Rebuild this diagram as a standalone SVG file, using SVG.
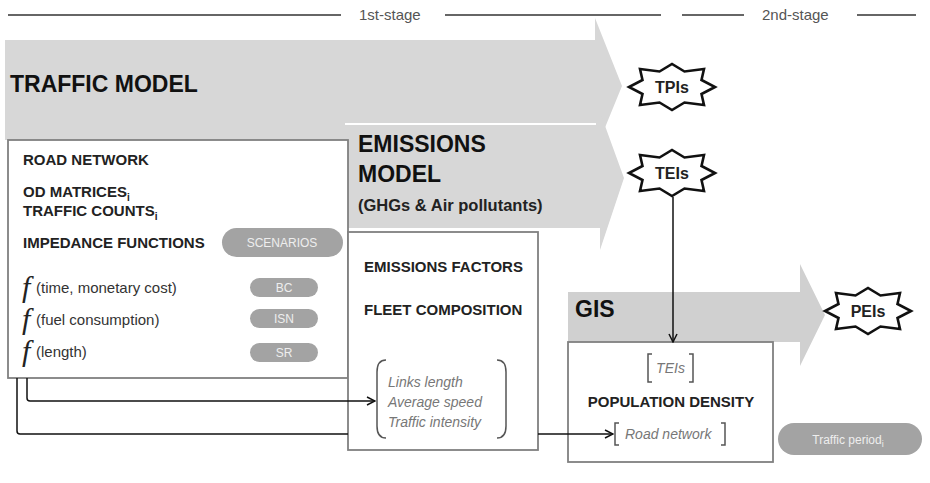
<svg xmlns="http://www.w3.org/2000/svg" width="930" height="483" viewBox="0 0 930 483">
<style>
  .sans { font-family: "Liberation Sans", Arial, sans-serif; }
  .hdr { font-family: "Liberation Sans", Arial, sans-serif; font-size: 15px; fill: #555; }
  .title { font-family: "Liberation Sans", Arial, sans-serif; font-size: 23px; font-weight: bold; fill: #111; }
  .item { font-family: "Liberation Sans", Arial, sans-serif; font-size: 15px; font-weight: bold; fill: #222; }
  .fn { font-family: "Liberation Sans", Arial, sans-serif; font-size: 15px; fill: #333; }
  .fbig { font-family: "Liberation Serif", "Times New Roman", serif; font-size: 30px; font-style: italic; fill: #222; }
  .it { font-family: "Liberation Sans", Arial, sans-serif; font-size: 14px; font-style: italic; fill: #777; }
  .pilltxt { font-family: "Liberation Sans", Arial, sans-serif; font-size: 12px; fill: #eee; text-anchor: middle; }
  .startxt { font-family: "Liberation Sans", Arial, sans-serif; font-size: 16px; font-weight: bold; fill: #222; text-anchor: middle; }
  .band { fill: #d7d7d7; }
  .band2 { fill: #d0d0d0; }
  .box { fill: #fff; stroke: #808080; stroke-width: 1.8; }
  .pill { fill: #a3a3a3; }
  .star { fill: #fff; stroke: #111; stroke-width: 2.6; stroke-linejoin: miter; }
  .brk { fill: none; stroke: #555; stroke-width: 1.5; }
  .rule { stroke: #333; stroke-width: 1.3; }
  .conn { fill: none; stroke: #111; stroke-width: 1.5; }
</style>
<defs>
  <marker id="arr" viewBox="0 0 10 10" refX="9" refY="5" markerWidth="10" markerHeight="10" markerUnits="userSpaceOnUse" orient="auto">
    <path d="M1,1 L9,5 L1,9" fill="none" stroke="#111" stroke-width="1.5"/>
  </marker>
  <path id="star" d="M43,0 L29.5,7 L32,18 L12.5,15.5 L0,23 L-12.5,15.5 L-32,18 L-29.5,7 L-43,0 L-29.5,-7 L-32,-18 L-12.5,-15.5 L0,-23 L12.5,-15.5 L32,-18 L29.5,-7 Z"/>
</defs>
<rect width="930" height="483" fill="#fff"/>

<g id="stage-header">
  <line class="rule" x1="8" y1="15" x2="341" y2="15"/>
  <text class="hdr" x="359" y="20">1st-stage</text>
  <line class="rule" x1="445" y1="15" x2="661" y2="15"/>
  <line class="rule" x1="682" y1="15" x2="744" y2="15"/>
  <text class="hdr" x="762" y="20">2nd-stage</text>
  <line class="rule" x1="857" y1="15" x2="916" y2="15"/>
</g>

<g id="traffic-model">
  <polygon class="band" points="5,40 595,40 595,18 622,86 595,152 595,140 5,140"/>
  <text class="title" x="10" y="92">TRAFFIC MODEL</text>
</g>

<g id="emissions-model">
  <polygon class="band" points="345,125 600,125 600,112 624,178 600,250 600,228 345,228"/>
  <line x1="345" y1="124" x2="596" y2="124" stroke="#fff" stroke-width="2"/>
  <text class="title" x="358" y="152">EMISSIONS</text>
  <text class="title" x="358" y="182">MODEL</text>
  <text class="sans" x="358" y="211" font-size="16.5" font-weight="bold" fill="#222">(GHGs &amp; Air pollutants)</text>
</g>

<g id="gis-model">
  <polygon class="band2" points="568,292 800,292 800,264 825,315 800,366 800,342 568,342"/>
  <text class="title" x="575" y="317">GIS</text>
</g>

<g id="traffic-inputs">
  <rect class="box" x="8" y="140" width="340" height="238"/>
  <text class="item" x="23" y="165">ROAD NETWORK</text>
  <text class="item" x="23" y="197">OD MATRICES<tspan font-size="10" dy="4">i</tspan></text>
  <text class="item" x="23" y="216">TRAFFIC COUNTS<tspan font-size="10" dy="4">i</tspan></text>
  <text class="item" x="23" y="248">IMPEDANCE FUNCTIONS</text>
  <rect class="pill" x="222" y="228" width="121" height="29" rx="14.5"/>
  <text class="pilltxt" x="282" y="247" font-size="13">SCENARIOS</text>
  <text class="fbig" x="22" y="297">f</text>
  <text class="fn" x="36" y="293">(time, monetary cost)</text>
  <text class="fbig" x="22" y="329">f</text>
  <text class="fn" x="36" y="325">(fuel consumption)</text>
  <text class="fbig" x="22" y="361">f</text>
  <text class="fn" x="36" y="357">(length)</text>
  <rect class="pill" x="250" y="278" width="68" height="19" rx="9.5"/>
  <text class="pilltxt" x="284" y="292">BC</text>
  <rect class="pill" x="250" y="309" width="68" height="19" rx="9.5"/>
  <text class="pilltxt" x="284" y="323">ISN</text>
  <rect class="pill" x="250" y="343" width="68" height="19" rx="9.5"/>
  <text class="pilltxt" x="284" y="357">SR</text>
</g>

<g id="emissions-inputs">
  <rect class="box" x="348" y="232" width="190" height="218"/>
  <text class="item" x="364" y="272">EMISSIONS FACTORS</text>
  <text class="item" x="364" y="315">FLEET COMPOSITION</text>
  <path class="brk" d="M386,360 Q377,360 377,372 L377,426 Q377,438 386,438"/>
  <path class="brk" d="M497,360 Q506,360 506,372 L506,426 Q506,438 497,438"/>
  <text class="it" x="388" y="387">Links length</text>
  <text class="it" x="388" y="407">Average speed</text>
  <text class="it" x="388" y="427">Traffic intensity</text>
</g>

<g id="gis-inputs">
  <rect class="box" x="568" y="342" width="205" height="120"/>
  <path class="brk" d="M652,354 L648,354 L648,382 L652,382"/>
  <path class="brk" d="M689,354 L693,354 L693,382 L689,382"/>
  <text class="it" x="670.5" y="373" font-size="11" text-anchor="middle">TEIs</text>
  <text class="item" x="671" y="407" text-anchor="middle">POPULATION DENSITY</text>
  <path class="brk" d="M619,423 L615,423 L615,445 L619,445"/>
  <path class="brk" d="M721,423 L725,423 L725,445 L721,445"/>
  <text class="it" x="625" y="439">Road network</text>
</g>

<g id="tpis">
  <use href="#star" class="star" transform="translate(672,87)"/>
  <text class="startxt" x="672" y="93">TPIs</text>
</g>
<g id="teis">
  <use href="#star" class="star" transform="translate(672,173)"/>
  <text class="startxt" x="672" y="179">TEIs</text>
</g>
<g id="peis">
  <use href="#star" class="star" transform="translate(868,311)"/>
  <text class="startxt" x="868" y="317">PEIs</text>
</g>

<g id="traffic-period">
  <rect class="pill" x="778" y="423" width="144" height="32" rx="16"/>
  <text class="pilltxt" x="848" y="444" font-size="14">Traffic period<tspan font-size="9" dy="3">i</tspan></text>
</g>

<g id="connectors">
  <path class="conn" d="M27,378 L27,398 Q27,401 30,401 L375,401" marker-end="url(#arr)"/>
  <path class="conn" d="M17,378 L17,431 Q17,434 20,434 L348,434"/>
  <path class="conn" d="M538,434 L613,434" marker-end="url(#arr)"/>
  <path class="conn" d="M673,197 L673,342" marker-end="url(#arr)"/>
</g>
</svg>
